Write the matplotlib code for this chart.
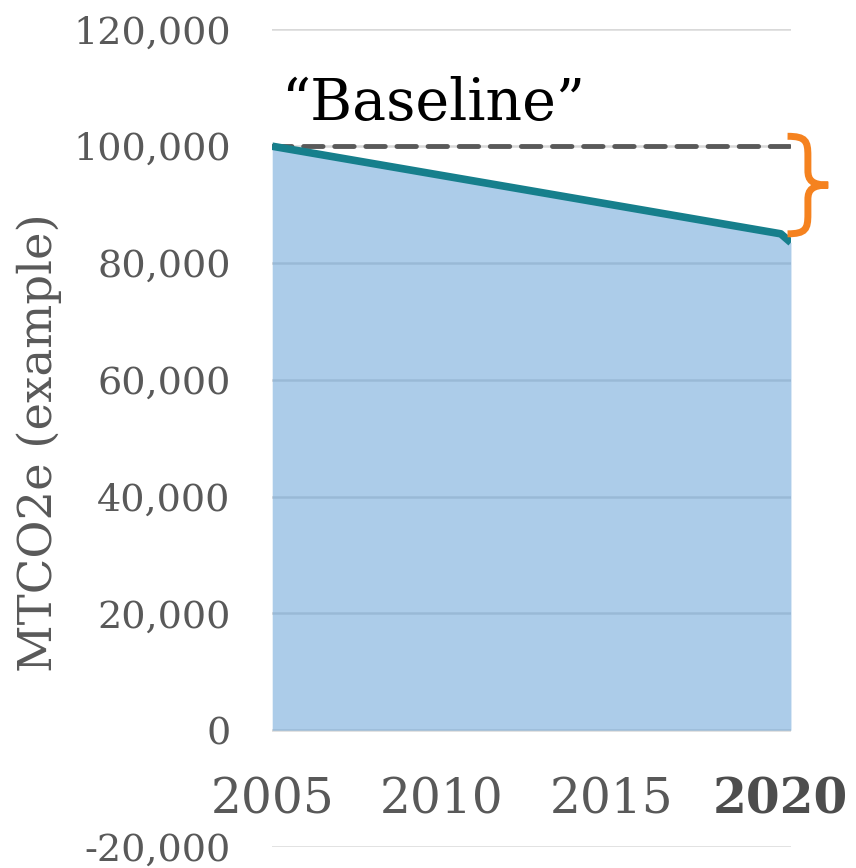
import matplotlib.pyplot as plt
from matplotlib.path import Path
from matplotlib.patches import PathPatch

# emissions series
years = [2005, 2020, 2020.3]
emissions = [100000, 85000, 83500]
baseline = 100000

year_labels = [2005, 2010, 2015, 2020]
y_ticks = [-20000, 0, 20000, 40000, 60000, 80000, 100000, 120000]

grey = '#595959'
teal = '#167f8c'
orange = '#f5821f'

plt.rcParams['font.family'] = ['DejaVu Serif']

fig = plt.figure(figsize=(8.56, 8.68), dpi=100)
ax = fig.add_axes([0.318, 0.0242, 0.606, 0.9419])

# area under the line, semi transparent so the grid shows through
ax.fill_between(years, emissions, 0, color='#5b9bd5', alpha=0.5, linewidth=0, zorder=2)
ax.plot(years, emissions, color=teal, linewidth=5.5, solid_capstyle='butt', zorder=4)

# baseline reference
ax.plot([years[0], years[-1]], [baseline, baseline], color=grey, linewidth=3.5,
        dashes=(4, 2.4), dash_capstyle='round', zorder=3)
ax.text(years[0] + 0.25, baseline + 7300, '\u201cBaseline\u201d', fontsize=41,
        color='black', ha='left', va='center')

# curly brace showing the gap between baseline and the 2020 value
top = baseline + 1700
bottom = emissions[1]
x0 = years[-1] - 0.1
w = 1.2
pts = [(0, 0), (0.45, 0), (0.5, 0.05), (0.5, 0.2),
       (0.5, 0.35),
       (0.5, 0.45), (0.6, 0.5), (1, 0.5),
       (0.6, 0.5), (0.5, 0.55), (0.5, 0.65),
       (0.5, 0.8),
       (0.5, 0.95), (0.45, 1), (0, 1)]
codes = [Path.MOVETO, Path.CURVE4, Path.CURVE4, Path.CURVE4,
         Path.LINETO,
         Path.CURVE4, Path.CURVE4, Path.CURVE4,
         Path.CURVE4, Path.CURVE4, Path.CURVE4,
         Path.LINETO,
         Path.CURVE4, Path.CURVE4, Path.CURVE4]
verts = [(x0 + u * w, top - v * (top - bottom)) for u, v in pts]
brace = PathPatch(Path(verts, codes), fill=False, edgecolor=orange, linewidth=5,
                  capstyle='butt', clip_on=False, zorder=5)
ax.add_patch(brace)

ax.set_xlim(2005, 2020.3)
ax.set_ylim(-20000, 120000)
ax.set_yticks(y_ticks)
ax.set_yticklabels([f'{v:,}' for v in y_ticks], fontsize=27.5, color=grey)
ax.set_xticks([])
ax.tick_params(axis='y', length=0, pad=30)
ax.grid(axis='y', color='#d9d9d9', linewidth=1.8, zorder=1)
ax.set_axisbelow(True)
for s in ax.spines.values():
    s.set_visible(False)

# year labels sit between the 0 and -20,000 gridlines
for yr in year_labels:
    bold = yr == year_labels[-1]
    ax.text(yr, -12000, str(yr), fontsize=35, ha='center', va='center',
            color='#4d4d4d' if bold else grey,
            fontweight='bold' if bold else 'normal')

ax.set_ylabel('MTCO2e (example)', fontsize=33.5, color=grey)
ax.yaxis.set_label_coords(-0.405, 0.495)

fig.savefig('out.png', dpi=100)
